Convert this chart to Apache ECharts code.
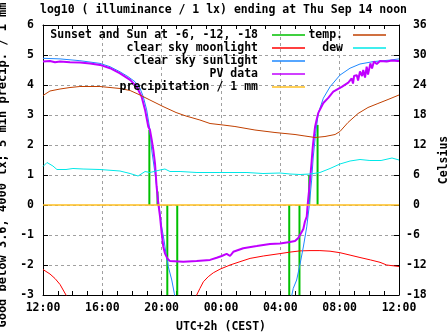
<!DOCTYPE html>
<html><head><meta charset="utf-8">
<script src="https://cdn.jsdelivr.net/npm/echarts@6/dist/echarts.min.js"></script>
<style>html,body{margin:0;padding:0;background:#fff}#c{width:447px;height:335px}</style>
</head><body><div id="c"></div>
<script>
// ---- data (x = hours since Wed 12:00 CEST) ----
const hourLabels = ['12:00','16:00','20:00','00:00','04:00','08:00','12:00'];

// sunset / sun at -6, -12, -18 markers (impulses)
const sunEventHours = [7.17, 7.72, 8.38, 9.05, 16.60, 17.29, 17.95, 18.51];
const sunEventValues = [2.5, 0.45, -3.5, -3.5, -3.5, -3.5, 1.0, 2.67];

// clear sky moonlight (log10 lx)
const moonHours = [0.00, 0.47, 0.81, 1.15, 1.55, 1.82, 6.0, 10.18, 10.36, 10.58, 10.81, 11.14, 11.48, 11.93, 12.61, 13.28, 13.96, 14.85, 15.98, 16.65, 17.33, 18.00, 18.67, 19.35, 20.02, 20.70, 21.37, 22.07, 22.72, 23.17, 24.00];
const moonValues = [-2.15, -2.30, -2.45, -2.65, -3.00, -3.30, null, -3.30, -3.00, -2.78, -2.56, -2.39, -2.26, -2.14, -2.00, -1.89, -1.78, -1.70, -1.62, -1.57, -1.53, -1.52, -1.52, -1.54, -1.59, -1.67, -1.75, -1.83, -1.91, -2.00, -2.05];

// clear sky sunlight (log10 lx)
const sunHours = [0.00, 1.15, 2.49, 3.84, 4.52, 5.19, 5.73, 6.20, 6.54, 6.76, 6.99, 7.21, 7.33, 7.55, 7.77, 7.89, 8.00, 8.16, 8.29, 8.45, 8.68, 8.85, 9.03, 12.0, 16.65, 16.87, 17.10, 17.33, 17.55, 17.78, 17.95, 18.11, 18.22, 18.38, 18.56, 18.90, 19.35, 20.02, 20.70, 21.37, 22.27, 23.39, 24.00];
const sunValues = [4.89, 4.87, 4.81, 4.72, 4.61, 4.44, 4.28, 4.11, 3.89, 3.61, 3.17, 2.50, 1.83, 1.06, 0.17, -0.28, -0.72, -1.17, -1.61, -2.06, -2.50, -2.94, -3.40, null, -3.30, -2.78, -2.50, -1.97, -1.40, -0.73, -0.03, 0.83, 1.60, 2.39, 3.06, 3.56, 3.94, 4.33, 4.56, 4.70, 4.78, 4.83, 4.87];

// PV data (log10 lx)
const pvHours = [0.00, 0.47, 0.81, 1.15, 1.82, 2.49, 3.17, 3.84, 4.52, 5.19, 5.87, 6.32, 6.65, 6.88, 7.10, 7.21, 7.33, 7.44, 7.55, 7.66, 7.77, 7.89, 8.00, 8.11, 8.22, 8.38, 8.56, 9.46, 10.36, 11.26, 11.71, 12.05, 12.38, 12.61, 12.83, 13.50, 14.41, 15.30, 15.98, 16.65, 16.99, 17.21, 17.44, 17.55, 17.66, 17.78, 17.84, 17.95, 18.05, 18.11, 18.18, 18.22, 18.34, 18.45, 18.56, 18.90, 19.23, 19.57, 20.14, 20.58, 20.81, 20.90, 20.97, 21.15, 21.24, 21.37, 21.51, 21.59, 21.71, 21.82, 21.91, 22.07, 22.18, 22.31, 22.50, 22.72, 23.17, 23.53, 23.93, 24.00];
const pvValues = [4.78, 4.80, 4.76, 4.78, 4.76, 4.75, 4.72, 4.67, 4.56, 4.39, 4.17, 3.94, 3.61, 3.17, 2.61, 2.50, 2.17, 1.83, 1.39, 0.61, 0.06, -0.39, -0.94, -1.39, -1.61, -1.78, -1.87, -1.89, -1.87, -1.83, -1.76, -1.70, -1.63, -1.70, -1.56, -1.44, -1.37, -1.30, -1.28, -1.23, -1.20, -1.10, -0.90, -0.80, -0.55, -0.39, 0.00, 0.55, 1.10, 1.45, 1.90, 2.10, 2.60, 2.85, 3.07, 3.40, 3.57, 3.78, 3.94, 4.08, 4.22, 4.05, 4.30, 4.33, 4.15, 4.45, 4.30, 4.50, 4.25, 4.61, 4.35, 4.72, 4.55, 4.78, 4.70, 4.80, 4.78, 4.82, 4.80, 4.80];

// precipitation / 1 mm
const precipHours = [0, 2, 4, 6, 8, 10, 12, 14, 16, 18, 20, 22, 24];
const precipValues = [0, 0, 0, 0, 0, 0, 0, 0, 0, 0, 0, 0, 0];

// temperature (Celsius)
const tempHours = [0.00, 0.47, 1.15, 1.82, 2.49, 3.84, 5.19, 5.87, 6.54, 7.21, 8.09, 8.97, 9.64, 10.58, 11.26, 12.14, 12.94, 14.29, 15.64, 16.99, 17.66, 18.34, 19.01, 19.69, 20.02, 20.56, 21.24, 21.91, 22.58, 23.26, 24.00];
const tempValues = [21.9, 22.8, 23.2, 23.5, 23.7, 23.7, 23.3, 22.9, 22.0, 21.0, 19.7, 18.5, 17.8, 17.0, 16.3, 16.0, 15.7, 15.0, 14.5, 14.1, 13.8, 13.5, 13.7, 14.1, 14.7, 16.5, 18.3, 19.5, 20.3, 21.1, 22.0];

// dew point (Celsius)
const dewHours = [0.00, 0.27, 0.67, 0.94, 1.55, 2.02, 2.70, 3.84, 5.19, 5.87, 6.41, 6.88, 7.21, 7.89, 8.22, 8.56, 9.24, 10.38, 11.93, 13.75, 14.83, 15.98, 16.65, 17.33, 18.00, 18.67, 19.35, 20.02, 20.70, 21.37, 22.04, 22.79, 23.53, 24.00];
const dewValues = [7.7, 8.5, 7.8, 7.1, 7.1, 7.3, 7.2, 7.1, 6.8, 6.3, 5.8, 6.7, 6.5, 7.0, 7.2, 6.7, 6.7, 6.5, 6.5, 6.5, 6.3, 6.4, 6.2, 6.1, 6.2, 6.5, 7.3, 8.2, 8.8, 9.1, 8.9, 8.9, 9.4, 9.0];

// ---- chart ----
function zip(xs, ys) { return xs.map((x, i) => [x, ys[i] === null ? '-' : ys[i]]); }
const FONT = 'DejaVu Sans Mono';
const txt = { fontFamily: FONT, fontWeight: 'bold', fontSize: 11.5, color: '#000' };
const gridLine = { show: true, lineStyle: { color: '#a0a0a0', type: [3, 3], width: 1 } };
const blackLine = { show: true, onZero: false, lineStyle: { color: '#000', width: 1 } };

const chart = echarts.init(document.getElementById('c'), null, { renderer: 'canvas' });
function lineSeries(name, data, color, width, yIdx) {
  return { name, type: 'line', data, yAxisIndex: yIdx || 0, symbol: 'none', showSymbol: false,
    connectNulls: false, clip: true, animation: false,
    lineStyle: { color, width }, itemStyle: { color } };
}
chart.setOption({
  animation: false,
  title: { text: 'log10 ( illuminance / 1 lx) ending at Thu Sep 14 noon', left: 'center', top: -1,
    textStyle: Object.assign({}, txt) },
  grid: { left: 43, right: 48, top: 25, bottom: 40, containLabel: false, outerBoundsMode: 'none' },
  legend: [
    { orient: 'vertical', align: 'right', right: 142, top: 28.5, padding: 0, itemGap: 0,
      itemWidth: 33, itemHeight: 1.5, icon: 'rect', selectedMode: false,
      textStyle: Object.assign({ lineHeight: 13, padding: [0, 9, 0, 0] }, txt),
      data: ['Sunset and Sun at -6, -12, -18', 'clear sky moonlight', 'clear sky sunlight', 'PV data', 'precipitation / 1 mm'] },
    { orient: 'vertical', align: 'right', right: 61, top: 28.5, padding: 0, itemGap: 0,
      itemWidth: 33, itemHeight: 1.5, icon: 'rect', selectedMode: false,
      textStyle: Object.assign({ lineHeight: 13, padding: [0, 5, 0, 0] }, txt),
      data: ['temp.', 'dew'] }
  ],
  xAxis: [
    { type: 'value', min: 0, max: 24, interval: 4, position: 'bottom',
      axisLine: blackLine, axisTick: { inside: true, length: 4, lineStyle: { color: '#000' } },
      minorTick: { show: true, splitNumber: 4, length: 4, lineStyle: { color: '#000' } },
      splitLine: gridLine,
      axisLabel: Object.assign({ margin: 7, formatter: v => hourLabels[Math.round(v / 4)] }, txt),
      name: 'UTC+2h (CEST)', nameLocation: 'middle', nameGap: 26, nameTextStyle: Object.assign({}, txt) },
    { type: 'value', min: 0, max: 24, interval: 4, position: 'top',
      axisLine: blackLine, axisTick: { inside: true, length: 4, lineStyle: { color: '#000' } },
      minorTick: { show: true, splitNumber: 4, length: 4, lineStyle: { color: '#000' } },
      splitLine: { show: false }, axisLabel: { show: false } }
  ],
  yAxis: [
    { type: 'value', min: -3, max: 6, interval: 1, position: 'left',
      axisLine: blackLine, axisTick: { inside: true, length: 5, lineStyle: { color: '#000' } },
      splitLine: gridLine,
      axisLabel: Object.assign({ margin: 9 }, txt),
      name: 'Good below 3.6, 4000 lx; 5 min precip. / 1 mm', nameLocation: 'middle', nameGap: 28,
      nameTextStyle: Object.assign({}, txt, { fontSize: 12, padding: [0, 10, 0, 0] }) },
    { type: 'value', min: -18, max: 36, interval: 6, position: 'right',
      axisLine: blackLine, axisTick: { inside: true, length: 5, lineStyle: { color: '#000' } },
      splitLine: { show: false },
      axisLabel: Object.assign({ margin: 7, formatter: v => (v >= 0 ? ' ' + v : '' + v) }, txt),
      name: 'Celsius', nameLocation: 'middle', nameGap: 35, nameTextStyle: Object.assign({}, txt) }
  ],
  series: [
    { name: 'Sunset and Sun at -6, -12, -18', type: 'bar', barWidth: 2, clip: true,
      data: zip(sunEventHours, sunEventValues), itemStyle: { color: '#00c000' } },
    lineSeries('clear sky moonlight', zip(moonHours, moonValues), '#ff0000', 1),
    lineSeries('clear sky sunlight', zip(sunHours, sunValues), '#1e88ff', 1),
    lineSeries('PV data', zip(pvHours, pvValues), '#c000ff', 2),
    lineSeries('precipitation / 1 mm', zip(precipHours, precipValues), '#ffc020', 1.5),
    lineSeries('temp.', zip(tempHours, tempValues), '#c04000', 1, 1),
    lineSeries('dew', zip(dewHours, dewValues), '#00e8e8', 1, 1)
  ]
});
</script></body></html>
